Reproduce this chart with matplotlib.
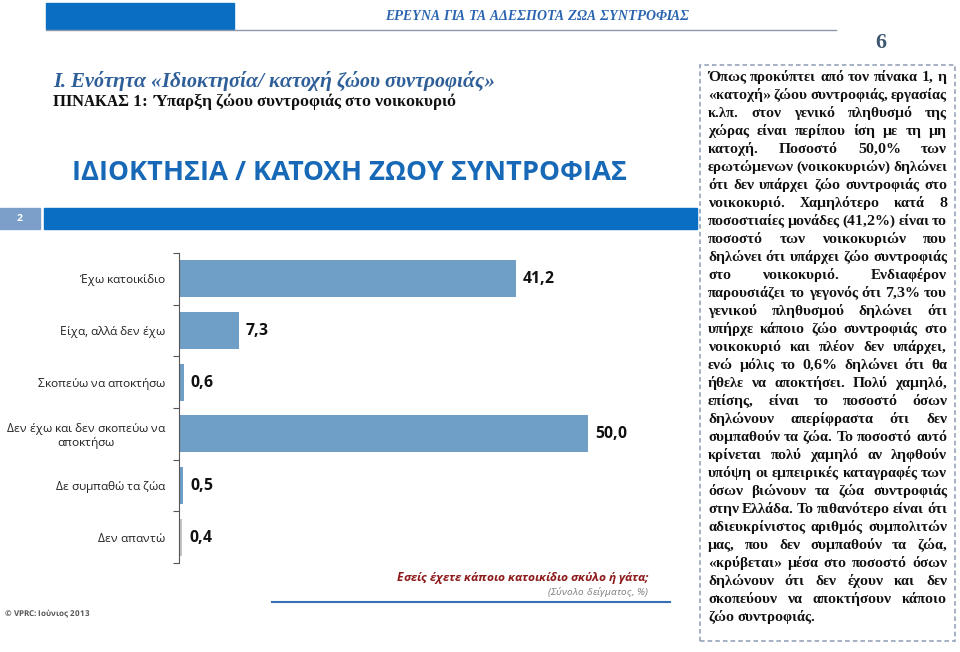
import matplotlib
matplotlib.use("Agg")
import matplotlib.pyplot as plt
from matplotlib.patches import Rectangle
from matplotlib.lines import Line2D

# hinting στον κάθετο άξονα, για να κάθονται όλες οι λέξεις στην ίδια γραμμή βάσης
plt.rcParams['text.hinting'] = 'native'
plt.rcParams['text.hinting_factor'] = 1

# Δεδομένα
kategories = ['Έχω κατοικίδιο', 'Είχα, αλλά δεν έχω', 'Σκοπεύω να αποκτήσω',
              'Δεν έχω και δεν σκοπεύω να\nαποκτήσω', 'Δε συμπαθώ τα ζώα', 'Δεν απαντώ']
timi = [41.2, 7.3, 0.6, 50.0, 0.5, 0.4]
etiketes = ['41,2', '7,3', '0,6', '50,0', '0,5', '0,4']
xromata = ['#6f9ec7', '#6f9ec7', '#6f9ec7', '#6f9ec7', '#6f9ec7', '#c4c4c4']

keimeno = [
    'Όπως προκύπτει από τον πίνακα 1, η',
    '«κατοχή» ζώου συντροφιάς, εργασίας',
    'κ.λπ. στον γενικό πληθυσμό της',
    'χώρας είναι περίπου ίση με τη μη',
    'κατοχή. Ποσοστό 50,0% των',
    'ερωτώμενων (νοικοκυριών) δηλώνει',
    'ότι δεν υπάρχει ζώο συντροφιάς στο',
    'νοικοκυριό. Χαμηλότερο κατά 8',
    'ποσοστιαίες μονάδες (41,2%) είναι το',
    'ποσοστό των νοικοκυριών που',
    'δηλώνει ότι υπάρχει ζώο συντροφιάς',
    'στο νοικοκυριό. Ενδιαφέρον',
    'παρουσιάζει το γεγονός ότι 7,3% του',
    'γενικού πληθυσμού δηλώνει ότι',
    'υπήρχε κάποιο ζώο συντροφιάς στο',
    'νοικοκυριό και πλέον δεν υπάρχει,',
    'ενώ μόλις το 0,6% δηλώνει ότι θα',
    'ήθελε να αποκτήσει. Πολύ χαμηλό,',
    'επίσης, είναι το ποσοστό όσων',
    'δηλώνουν απερίφραστα ότι δεν',
    'συμπαθούν τα ζώα. Το ποσοστό αυτό',
    'κρίνεται πολύ χαμηλό αν ληφθούν',
    'υπόψη οι εμπειρικές καταγραφές των',
    'όσων βιώνουν τα ζώα συντροφιάς',
    'στην Ελλάδα. Το πιθανότερο είναι ότι',
    'αδιευκρίνιστος αριθμός συμπολιτών',
    'μας, που δεν συμπαθούν τα ζώα,',
    '«κρύβεται» μέσα στο ποσοστό όσων',
    'δηλώνουν ότι δεν έχουν και δεν',
    'σκοπεύουν να αποκτήσουν κάποιο',
    'ζώο συντροφιάς.',
]

W, H = 960, 652
SANS = ['Open Sans', 'DejaVu Sans']
SERIF = ['Liberation Serif', 'DejaVu Serif']

def fx(x):
    return x / W

def fy(y):
    return 1 - y / H

fig = plt.figure(figsize=(9.6, 6.52), dpi=100)
fig.patch.set_facecolor('white')

# Κεφαλίδα σελίδας
fig.patches.append(Rectangle((fx(46), fy(29)), fx(234) - fx(46), fy(3) - fy(29),
                             transform=fig.transFigure, color='#0a6fc2', zorder=1))
fig.lines.append(Line2D([fx(46), fx(836)], [fy(29.5), fy(29.5)], transform=fig.transFigure,
                        color='#8a98a8', lw=1))
fig.text(fx(689), fy(17), 'ΕΡΕΥΝΑ ΓΙΑ ΤΑ ΑΔΕΣΠΟΤΑ ΖΩΑ ΣΥΝΤΡΟΦΙΑΣ', ha='right', va='center',
         family=SERIF, style='italic', weight='bold', fontsize=10.3, color='#2a64b0')
fig.text(fx(881), fy(42), '6', ha='center', va='center', family=SERIF, weight='bold',
         fontsize=15, color='#3d5670')

fig.text(fx(53), fy(81), 'I. Ενότητα «Ιδιοκτησία/ κατοχή ζώου συντροφιάς»', ha='left', va='center',
         family=SERIF, style='italic', weight='bold', fontsize=14.9, color='#2f5f98')
fig.text(fx(53), fy(102), 'ΠΙΝΑΚΑΣ 1: Ύπαρξη ζώου συντροφιάς στο νοικοκυριό', ha='left', va='center',
         family=SERIF, weight='bold', fontsize=12.2, color='#111111')

# Τίτλος διαφάνειας
fig.text(fx(72), fy(173), 'ΙΔΙΟΚΤΗΣΙΑ / ΚΑΤΟΧΗ ΖΩΟΥ ΣΥΝΤΡΟΦΙΑΣ', ha='left', va='center',
         family=SANS, weight='bold', fontsize=19.1, color='#1769b7')

# Ταινία με αριθμό
fig.patches.append(Rectangle((fx(0), fy(229)), fx(40), fy(208) - fy(229),
                             transform=fig.transFigure, color='#7b9fc8', zorder=1))
fig.text(fx(20), fy(218.5), '2', ha='center', va='center', family=SANS, weight='bold',
         fontsize=7, color='white')
fig.patches.append(Rectangle((fx(44), fy(229)), fx(697) - fx(44), fy(208) - fy(229),
                             transform=fig.transFigure, color='#0a6fc2', zorder=1))

# Γράφημα
ax = fig.add_axes([fx(179), fy(563), fx(670) - fx(179), fy(253) - fy(563)])
thesis = list(range(len(kategories)))
ax.barh(thesis, timi, height=0.72, color=xromata)
for y, v, t in zip(thesis, timi, etiketes):
    ax.annotate(t, (v, y), xytext=(5, 0), textcoords='offset points', ha='left', va='center',
                family=SANS, weight='bold', fontsize=11.5, color='#111111')
ax.set_xlim(0, 60)
ax.set_ylim(len(kategories) - 0.5, -0.5)
ax.set_yticks(thesis)
ax.set_yticklabels(kategories, family=SANS, fontsize=8.6, color='#222222')
for lbl in ax.get_yticklabels():
    lbl.set_multialignment('center')
ax.set_yticks([i - 0.5 for i in range(len(kategories) + 1)], minor=True)
ax.tick_params(axis='y', which='major', length=0, pad=10)
ax.tick_params(axis='y', which='minor', length=4, color='#555555', width=0.8)
ax.set_xticks([])
for s in ['top', 'right', 'bottom']:
    ax.spines[s].set_visible(False)
ax.spines['left'].set_color('#555555')
ax.spines['left'].set_linewidth(0.8)

fig.text(fx(648), fy(578), 'Εσείς έχετε κάποιο κατοικίδιο σκύλο ή γάτα;', ha='right', va='center',
         family=SANS, style='italic', weight='bold', fontsize=8.5, color='#8e1b1b')
fig.text(fx(648), fy(592), '(Σύνολο δείγματος, %)', ha='right', va='center',
         family=SANS, style='italic', fontsize=7, color='#7a7a7a')
fig.lines.append(Line2D([fx(272), fx(670)], [fy(602), fy(602)], transform=fig.transFigure,
                        color='#3470b5', lw=1.5))
fig.text(fx(5), fy(613), '© VPRC: Ιούνιος 2013', ha='left', va='center',
         family=SANS, weight='bold', fontsize=6, color='#555555')

# Πλαίσιο με κείμενο
fig.patches.append(Rectangle((fx(700), fy(641)), fx(955) - fx(700), fy(65) - fy(641),
                             transform=fig.transFigure, fill=False, edgecolor='#8d9db3',
                             lw=1.1, linestyle=(0, (3, 2)), zorder=1))

renderer = fig.canvas.get_renderer()
x0, x1 = 708, 947

# μέγεθος γραμματοσειράς ώστε η πιο πλατιά γραμμή να χωράει
def fysiko_platos(radi, fs):
    t = fig.text(0, 0, radi, family=SERIF, weight='bold', fontsize=fs)
    p = t.get_window_extent(renderer).width
    t.remove()
    return p

fs0 = 10
megisto = max(fysiko_platos(r, fs0) for r in keimeno)
fs = fs0 * (x1 - x0 - 2) / megisto
kenos_fysiko = 0.25 * fs * 100 / 72

for i, radi in enumerate(keimeno):
    y = 77 + i * 18 + 4.25
    lexeis = radi.split(' ')
    objs = [fig.text(0, fy(y), w, ha='left', va='baseline', family=SERIF, weight='bold',
                     fontsize=fs, color='#111111') for w in lexeis]
    platos = [o.get_window_extent(renderer).width for o in objs]
    if i == len(keimeno) - 1 or len(lexeis) == 1:
        kenos = kenos_fysiko
    else:
        kenos = (x1 - x0 - sum(platos)) / (len(lexeis) - 1)
    x = x0
    for o, p in zip(objs, platos):
        o.set_x(fx(x))
        x += p + kenos

fig.savefig('out.png', dpi=100)
